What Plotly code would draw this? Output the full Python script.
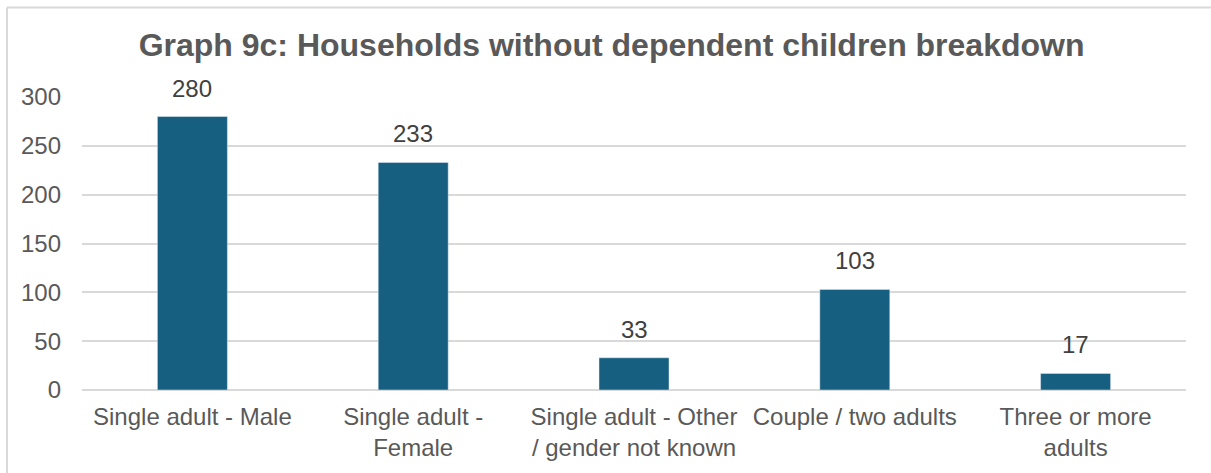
import plotly.graph_objects as go

categories = ["Single adult - Male", "Single adult -<br>Female", "Single adult - Other<br>/ gender not known",
              "Couple / two adults", "Three or more<br>adults"]
values = [280, 233, 33, 103, 17]
y_ticks = [0, 50, 100, 150, 200, 250, 300]

W, H = 1211, 473
L, R, T, B = 82, 25, 97, 78
pw, ph = W - L - R, H - T - B
FONT = "Liberation Sans, Arial"

fig = go.Figure(go.Bar(
    x=categories, y=values, marker_color="#175F80",
))

def px_x(p):
    return (p - L) / pw

def px_y(p):
    return (H - B - p) / ph

annotations = [
    dict(x=c, y=v, xref="x", yref="y", text=str(v), showarrow=False, yanchor="bottom",
         yshift=13, font=dict(family=FONT, size=24, color="#404040"))
    for c, v in zip(categories, values)
]

fig.update_layout(
    width=W, height=H,
    margin=dict(l=L, r=R, t=T, b=B),
    paper_bgcolor="white", plot_bgcolor="white",
    bargap=0.683,
    showlegend=False,
    font=dict(family=FONT, color="#595959", size=24),
    title=dict(text="<b>Graph 9c: Households without dependent children breakdown</b>",
               x=0.505, xanchor="center", y=1 - 45 / H, yanchor="middle",
               font=dict(size=32, color="#595959", family=FONT)),
    xaxis=dict(showgrid=False, showline=False, ticks="", tickfont=dict(size=24, color="#595959"),
               tickangle=0, ticklabelstandoff=10),
    yaxis=dict(range=[0, 300], tickvals=y_ticks, showgrid=True, gridcolor="#D9D9D9", gridwidth=1.5,
               zeroline=True, zerolinecolor="#D9D9D9", zerolinewidth=1.5, showline=False,
               ticks="", ticklabelstandoff=20, tickfont=dict(size=24, color="#595959")),
    annotations=annotations,
    shapes=[
        dict(type="line", xref="paper", yref="paper", x0=px_x(7), x1=px_x(1230), y0=px_y(6), y1=px_y(6),
             line=dict(color="#D9D9D9", width=2), layer="below"),
        dict(type="line", xref="paper", yref="paper", x0=px_x(7), x1=px_x(7), y0=px_y(6), y1=px_y(490),
             line=dict(color="#D9D9D9", width=2), layer="below"),
    ],
)

fig.write_html("out.html")
